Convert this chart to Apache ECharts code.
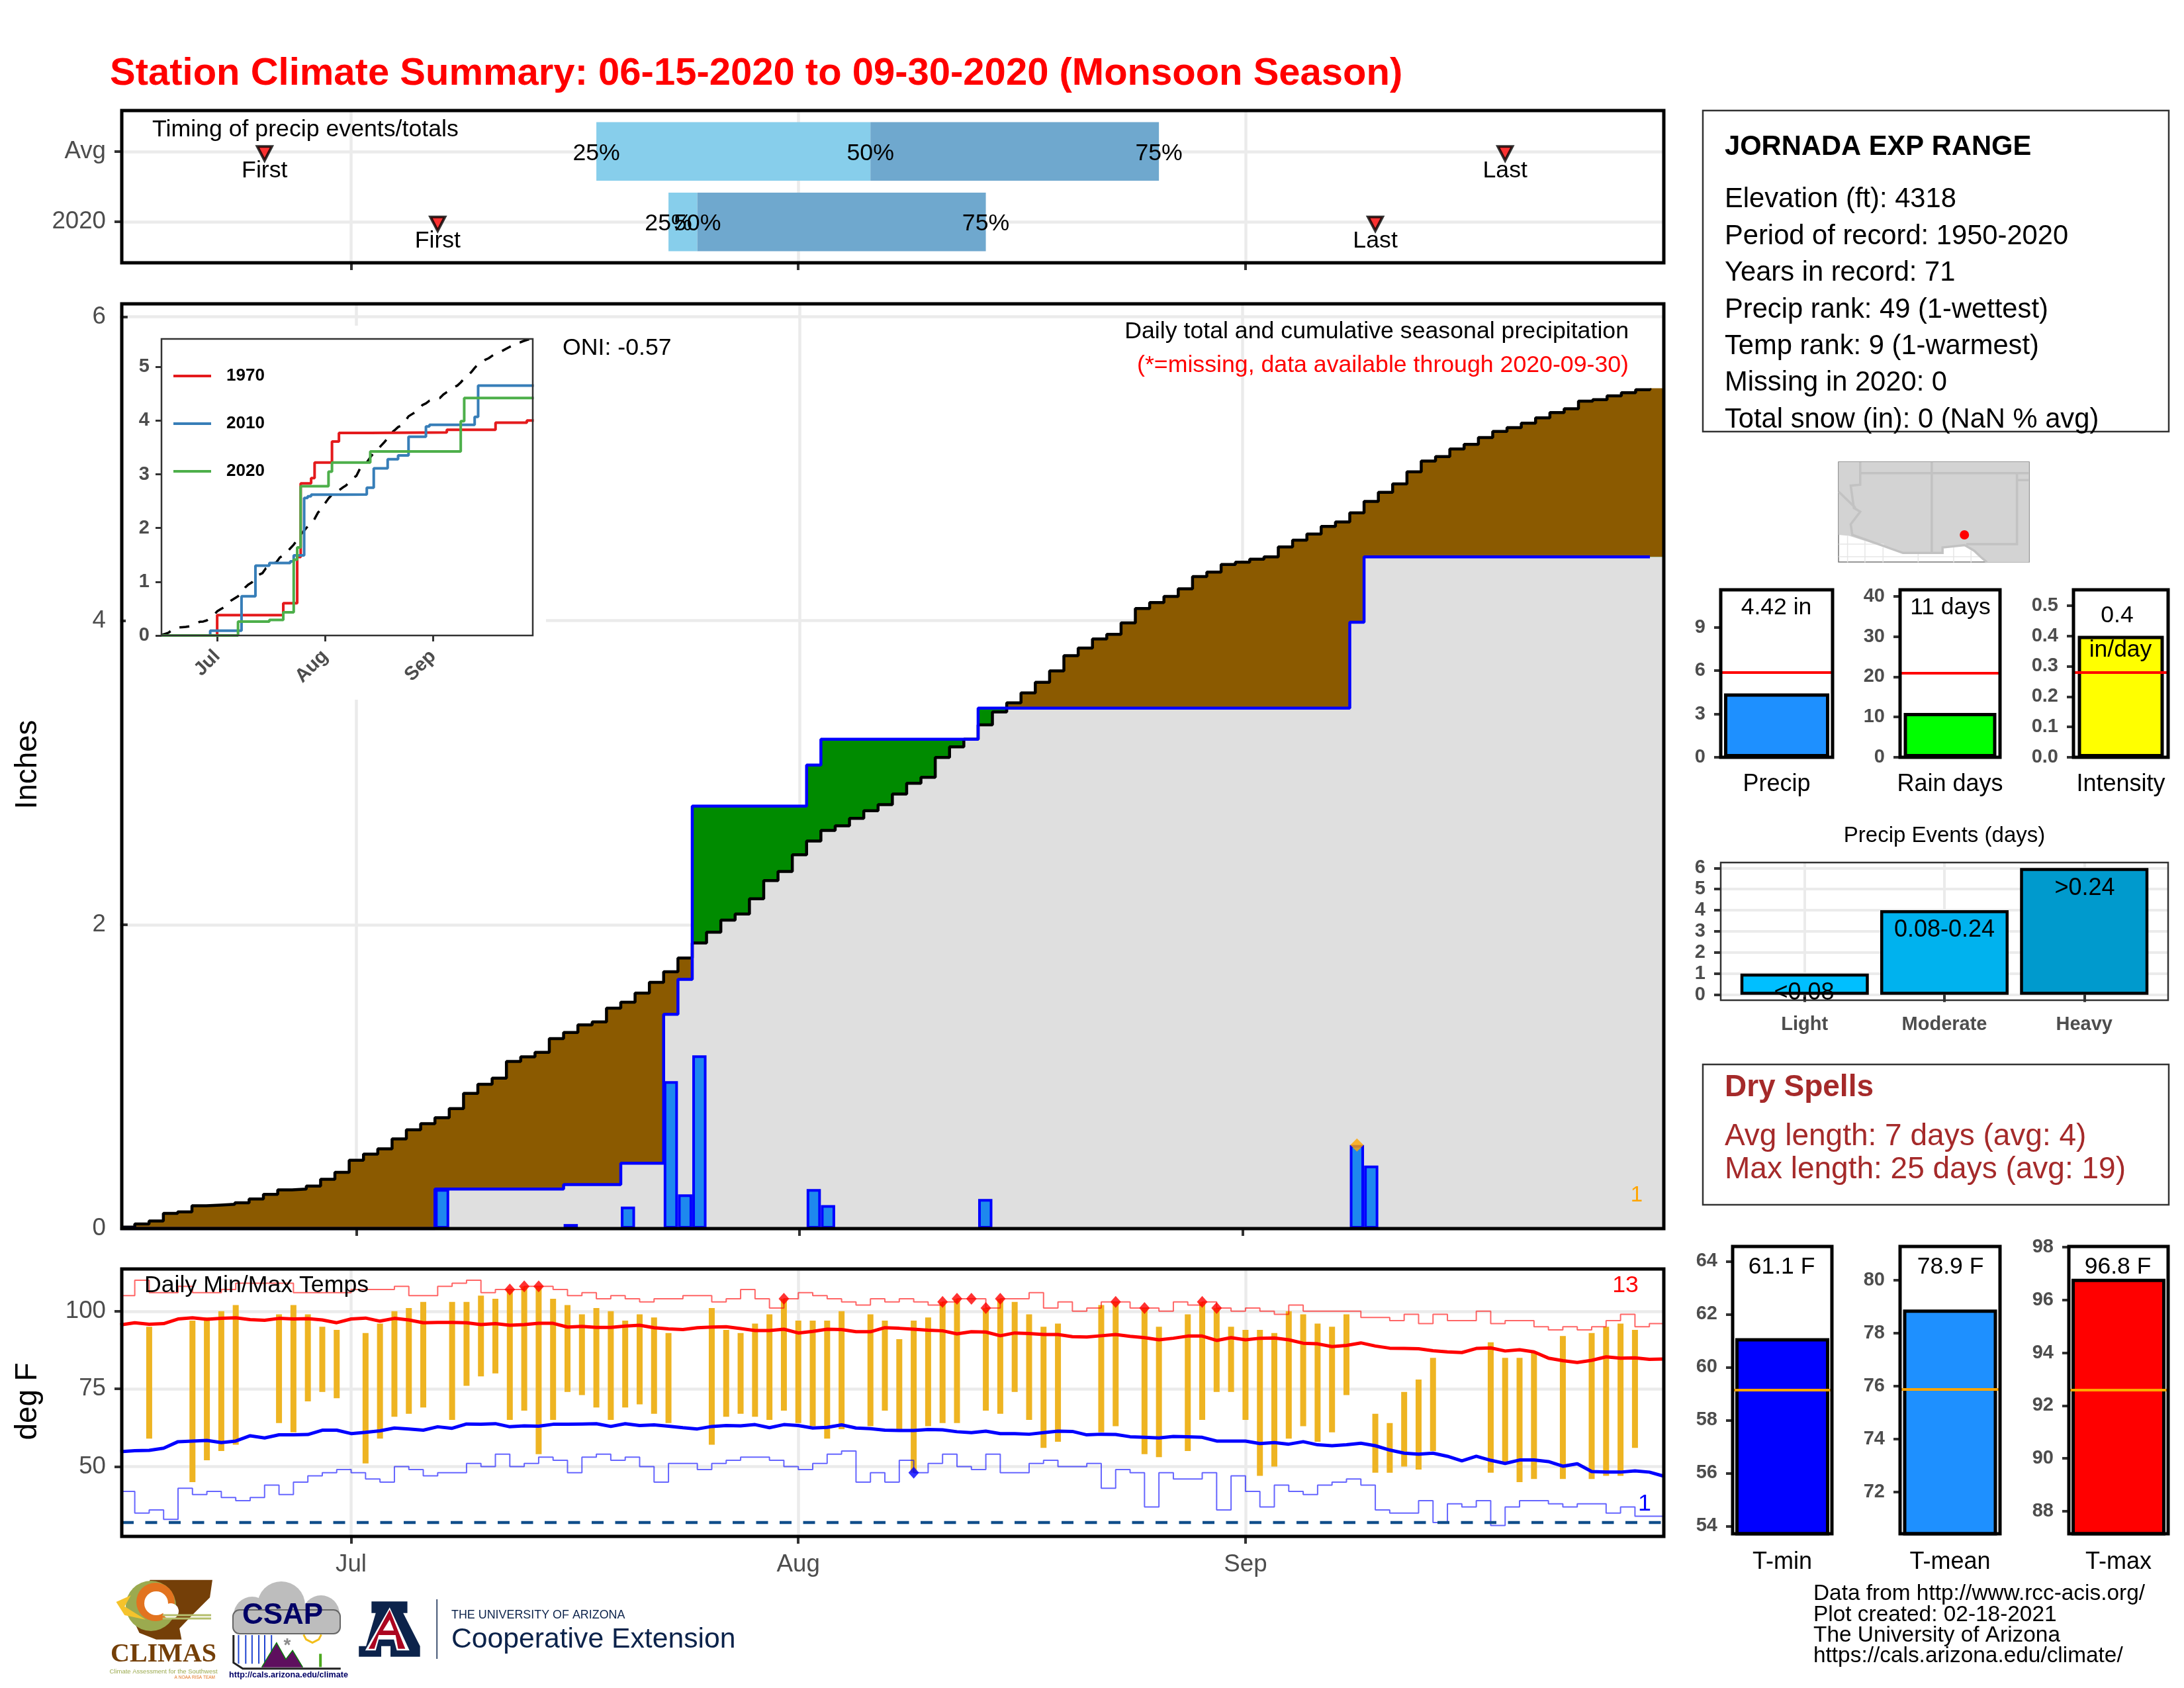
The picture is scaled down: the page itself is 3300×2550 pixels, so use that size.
<!DOCTYPE html>
<html>
<head>
<meta charset="utf-8">
<style>html,body{margin:0;padding:0;background:#fff}#chart{width:3300px;height:2550px}</style>
<script src="https://cdn.jsdelivr.net/npm/echarts@6/dist/echarts.min.js"></script>
</head>
<body>
<div id="chart"></div>
<script>
// month ticks, as day number counted from Jun 15
var monthTicks = [16, 47, 78];
var monthNames = {16: 'Jul', 47: 'Aug', 78: 'Sep'};

// timing panel
var avgQuart = [33, 52, 72];
var obsQuart = [38, 40, 60];
var avgFirstLast = [10, 96];
var obsFirstLast = [22, 87];
var quartNames = ['25%', '50%', '75%'];

// average cumulative precip, one value per day
var avgCum = [0.01,0.03,0.05,0.10,0.11,0.15,0.155,0.16,0.17,0.195,0.225,0.255,0.26,0.28,0.325,0.37,0.45,0.49,0.525,0.59,
  0.65,0.69,0.73,0.79,0.89,0.95,0.99,1.10,1.13,1.16,1.25,1.29,1.34,1.36,1.45,1.49,1.55,1.62,1.69,1.78,
  1.88,1.95,2.03,2.07,2.17,2.29,2.35,2.46,2.55,2.62,2.65,2.70,2.75,2.79,2.86,2.93,2.97,3.10,3.17,3.22,
  3.315,3.40,3.46,3.525,3.595,3.67,3.77,3.82,3.88,3.91,3.985,4.08,4.12,4.16,4.21,4.29,4.32,4.37,4.385,4.405,
  4.42,4.485,4.53,4.57,4.62,4.65,4.71,4.785,4.845,4.90,4.98,5.05,5.08,5.13,5.16,5.205,5.245,5.27,5.30,5.335,
  5.37,5.395,5.445,5.455,5.48,5.50,5.52,5.53];

// rain days of 2020
var rainDays = [22, 31, 35, 38, 39, 40, 48, 49, 60, 86, 87];
var rainAmount = [0.26, 0.03, 0.145, 0.97, 0.225, 1.14, 0.26, 0.155, 0.195, 0.55, 0.415];
var rainCum = [0.26, 0.29, 0.43, 1.41, 1.64, 2.78, 3.05, 3.22, 3.425, 3.99, 4.42];

// inset years: day of each rise and the total after it
var days1970 = [16,35,39,40,43,44,49,51,60,82,96,105];
var vals1970 = [0.38,0.60,1.46,2.83,2.93,3.22,3.61,3.77,3.78,3.83,3.96,4.0];
var days2010 = [14,23,27,31,37,38,41,42,43,52,59,61,65,68,71,76,77,90,91];
var vals2010 = [0.09,0.73,1.30,1.35,1.38,1.49,2.56,2.59,2.62,2.625,2.75,3.11,3.28,3.35,3.70,3.89,3.92,4.07,4.65];

// daily temps
var tempDays = [2,5,6,7,8,11,12,13,14,15,17,18,19,20,21,23,24,25,26,27,28,29,30,31,32,33,34,35,36,37,38,41,42,43,44,45,46,47,48,49,50,52,53,54,55,56,57,58,60,61,62,63,64,65,68,69,71,72,74,75,76,77,78,79,80,81,82,83,84,85,87,88,89,90,91,95,96,97,98,100,102,103,104,105];
var tempHigh = [95,97,98,100,102,99,102,99,95,94,93,96,100,101,103,103,103,105,104,107,108,108,104,102,99,101,100,97,99,98,93,101,94,93,96,99,104,97,97,97,100,99,97,91,97,98,103,104,101,104,103,99,95,96,102,103,101,95,99,103,101,95,94,94,93,100,99,96,95,99,67,64,74,78,85,90,85,85,87,92,93,95,96,94];
var tempLow = [59,45,52,55,57,64,61,71,74,72,51,59,66,67,69,65,76,79,80,65,68,54,65,74,73,69,65,69,70,67,64,57,66,67,66,65,68,64,63,59,62,63,68,62,48,63,64,64,68,67,74,65,56,58,61,63,54,53,55,65,74,74,65,47,50,59,63,58,61,73,48,48,50,49,55,48,51,45,46,46,46,47,47,56];
var recordHigh = [105,110,106,106,108,106,106,107,109,109,109,109,106,106,106,106,107,107,107,108,105,105,108,109,110,106,107,107,108,108,107,105,106,104,105,104,
  103,104,104,105,105,103,104,107,104,101,104,106,105,104,103,102,104,103,104,103,102,103,104,104,101,104,104,106,101,103,100,101,103,103,101,101,
  100,103,102,103,101,100,101,100,99,102,100,100,100,100,98,98,97,99,96,99,97,97,100,96,97,97,95,94,95,94,95,97,99,95,96,96];
var recordLow = [42,35,36,33,43,41,42,40,39,40,44,41,45,47,48,49,48,46,45,50,49,47,48,48,51,50,54,50,51,53,52,48,53,54,52,53,
  50,45,51,51,49,51,52,53,53,52,50,49,51,54,55,45,48,45,52,48,51,54,50,49,54,48,48,51,52,50,50,51,43,49,48,37,
  48,46,46,48,36,47,42,37,44,42,41,44,45,46,44,36,35,35,39,32,38,37,39,31,37,39,39,38,37,38,38,35,37,34,34,34];
var normalHigh = [95.6,96.3,95.8,96,97.5,97.9,97.4,97.7,97.9,97.3,97.1,97.7,97.5,97.6,97.2,96.3,97.5,97.8,96.8,97.7,97.2,96.3,96.4,96.4,96.3,95.7,96,95.5,95.7,96.1,96.1,94.9,95.1,94.8,94.8,95.2,
  95.5,94.7,94.3,94.1,94.7,94.9,95,94.4,93.8,93.8,94.2,93,93.5,94.2,94.1,93.4,93.4,94.7,94.5,94.2,93.9,93.7,92.7,93.4,93.3,92.1,93,92.8,92.5,92.5,91.8,91.7,92.1,92.5,91.9,91.5,
  90.8,91.3,92,92,90.6,91.5,90.8,91.3,91.4,90.8,89.7,89.5,88.6,89,89.8,88.8,88.1,88,87.9,87.3,86.9,86.7,88,88.2,87.2,87.6,86.9,84.9,84.1,83.5,84.2,85.3,84.9,85,84.5,84.6];
var normalLow = [54.8,55.1,55.2,55.9,58,58.2,58.4,57.7,58.2,59.9,59.2,60.2,60.2,60.3,61.7,61.7,60.6,61,61.5,62.4,62.1,61.7,62.8,62.3,63.7,63.6,63.8,62.8,63.1,63,63.6,63.6,63.7,63.8,62.9,63.8,
  63.2,63.4,63,62.5,62.1,62.9,63.2,63.1,63.5,62.5,63.5,63.2,62.4,62.6,63.4,62.4,62.2,61.7,61.6,61.6,61.9,61.8,61.2,60.9,61.4,60.6,60.6,60.4,60.9,61.4,61.3,60.2,60.4,60.3,59.6,59.4,
  59.2,59.7,59.6,59.4,58.2,58.2,58.2,57.4,57.7,57.2,58,57,56.7,57,57.5,56.7,55.3,54.3,54,54.3,53.3,51.8,53.3,52,51,52.1,52.1,51.6,50.1,50.9,48.4,48.2,48.2,48.6,48.2,46.9];
var recordHighDays = [27,28,29,46,57,58,59,60,61,69,71,75,76];
var recordHighVals = [107,108,108,104,103,104,104,101,104,103,101,103,101];
var recordLowDays = [55];
var recordLowVals = [48];
var freezeLine = 32;

// small summary bars
var seasonBars = {precip: 4.42, rain: 11, intensity: 0.4};
var seasonAvg = {precip: 5.87, rain: 20.9, intensity: 0.279};
var eventNames = ['Light', 'Moderate', 'Heavy'];
var eventLabels = ['<0.08', '0.08-0.24', '>0.24'];
var eventDays = [1, 4, 6];
var tempBars = {min: 61.1, mean: 78.9, max: 96.8};
var tempAvg = {min: 59.15, mean: 75.88, max: 92.6};

var FONT = '"Liberation Sans"';
var GREY = '#4d4d4d';
var GRID = '#ebebeb';

// spread step data to one value per day
function perDay(days, vals) {
  var out = [], cur = 0, k = 0;
  for (var i = 0; i < avgCum.length; i++) {
    while (k < days.length && days[k] <= i) { cur = vals[k]; k++; }
    out.push(cur);
  }
  return out;
}
var obsCum = perDay(rainDays, rainCum);
var lowerCum = avgCum.map(function (v, i) { return Math.min(v, obsCum[i]); });

// points for a stair line, each riser on the left edge of its day
function stair(vals) { return vals.map(function (v, i) { return [i - 0.5, v]; }); }
function stairFill(vals) { return stair(vals).concat([[107.6, vals[vals.length - 1]]]); }
function riseLine(days, vals, end) {
  var pts = [[0, 0]];
  days.forEach(function (d, i) { pts.push([d, vals[i]]); });
  pts.push([end, vals[vals.length - 1]]);
  return pts;
}

var grids = [
  {left: 184, top: 167, width: 2330, height: 230},
  {left: 184, top: 459, width: 2330, height: 1397},
  {left: 244, top: 512, width: 561, height: 448},
  {left: 184, top: 1917, width: 2330, height: 404},
  {left: 2600, top: 891, width: 169, height: 253},
  {left: 2871, top: 891, width: 151, height: 253},
  {left: 3133, top: 891, width: 143, height: 253},
  {left: 2600, top: 1303, width: 676, height: 208},
  {left: 2618, top: 1883, width: 150, height: 434},
  {left: 2871, top: 1883, width: 151, height: 434},
  {left: 3126, top: 1883, width: 150, height: 434}
];

function axis(idx, min, max, ticks, o) {
  o = o || {};
  return {
    type: 'value', gridIndex: idx, min: min, max: max, z: o.z,
    axisLine: {show: false},
    axisTick: {show: true, customValues: ticks, length: o.tick || 11, lineStyle: {color: '#333', width: o.tickW || 4}},
    axisLabel: {
      show: o.labels !== false, customValues: ticks, color: o.color || GREY, margin: o.margin || 24,
      fontFamily: FONT, fontSize: o.size || 36.7, fontWeight: o.weight || 'normal', rotate: o.rotate || 0,
      formatter: o.fmt, showMinLabel: true, showMaxLabel: true, hideOverlap: false, padding: o.pad || 0
    },
    splitLine: {show: o.split !== false, lineStyle: {color: GRID, width: o.gridW || 4.5}}
  };
}
function monthFmt(v) { return monthNames[v] || ''; }
function catAxis(idx, name, margin) {
  return {
    type: 'category', gridIndex: idx, data: [name],
    axisLine: {show: false}, axisTick: {show: false}, splitLine: {show: false},
    axisLabel: {color: '#000', fontFamily: FONT, fontSize: 36, margin: margin}
  };
}

var xAxes = [
  axis(0, 0.1, 107, monthTicks, {labels: false}),
  axis(1, -0.41, 107.47, monthTicks, {labels: false}),
  axis(2, 0, 106.7, monthTicks, {fmt: monthFmt, split: false, rotate: 45, weight: 'bold', size: 29, tick: 9, tickW: 3, margin: 27, z: 3}),
  axis(3, 0.1, 107, monthTicks, {fmt: monthFmt, margin: 24}),
  catAxis(4, 'Precip', 23), catAxis(5, 'Rain days', 23), catAxis(6, 'Intensity', 23),
  axis(7, 0.4, 3.6, [1, 2, 3], {fmt: function (v) { return eventNames[v - 1]; }, weight: 'bold', size: 29, gridW: 4, margin: 22}),
  catAxis(8, 'T-min', 25), catAxis(9, 'T-mean', 25), catAxis(10, 'T-max', 25)
];
var smallY = {weight: 'bold', size: 29, split: false, tick: 10, margin: 23, pad: [6, 0, 0, 0]};
var mainPad = [6, 0, 0, 0];
var yAxes = [
  axis(0, 0.42, 2.58, [1, 2], {fmt: function (v) { return v === 2 ? 'Avg' : '2020'; }, pad: [9, 0, 0, 0]}),
  axis(1, 0, 6.085, [0, 2, 4, 6], {fmt: String, pad: mainPad}),
  axis(2, 0, 5.52, [0, 1, 2, 3, 4, 5], {fmt: String, split: false, weight: 'bold', size: 29, tick: 9, tickW: 3, margin: 18, z: 3, pad: [4, 0, 0, 0]}),
  axis(3, 27.5, 113.6, [50, 75, 100], {fmt: String, pad: mainPad}),
  axis(4, 0, 11.6, [0, 3, 6, 9], smallY),
  axis(5, 0, 41.6, [0, 10, 20, 30, 40], smallY),
  axis(6, 0, 0.5516, [0, 0.1, 0.2, 0.3, 0.4, 0.5], Object.assign({fmt: function (v) { return v.toFixed(1); }}, smallY)),
  axis(7, -0.26, 6.26, [0, 1, 2, 3, 4, 5, 6], {fmt: String, weight: 'bold', size: 29, tick: 10, margin: 23, gridW: 4, pad: [6, 0, 0, 0]}),
  axis(8, 53.71, 64.56, [54, 56, 58, 60, 62, 64], smallY),
  axis(9, 70.43, 81.28, [72, 74, 76, 78, 80], smallY),
  axis(10, 87.15, 98.02, [88, 90, 92, 94, 96, 98], smallY)
];

// horizontal range bars of the timing panel
var timingBars = [
  [2, avgQuart[0], avgQuart[1], '#87CEEB'], [2, avgQuart[1], avgQuart[2], '#6FA8CE'],
  [1, obsQuart[0], obsQuart[1], '#87CEEB'], [1, obsQuart[1], obsQuart[2], '#6FA8CE']
];
var timingText = [];
quartNames.forEach(function (n, i) {
  timingText.push([avgQuart[i], 2, n, 3]);
  timingText.push([obsQuart[i], 1, n, 3]);
});
timingText.push([avgFirstLast[0], 2, 'First', 29], [avgFirstLast[1], 2, 'Last', 29]);
timingText.push([obsFirstLast[0], 1, 'First', 29], [obsFirstLast[1], 1, 'Last', 29]);

function lineS(idx, data, color, width, extra) {
  return Object.assign({
    type: 'line', xAxisIndex: idx, yAxisIndex: idx, data: data, showSymbol: false, symbol: 'none',
    silent: true, lineStyle: {color: color, width: width}, itemStyle: {color: color}
  }, extra || {});
}
function fillS(vals, color) {
  return lineS(1, stairFill(vals), color, 0, {step: 'end', areaStyle: {color: color, opacity: 1}, lineStyle: {width: 0}});
}
function diamonds(idx, days, vals, color, size) {
  return {
    type: 'scatter', xAxisIndex: idx, yAxisIndex: idx, symbol: 'diamond', symbolSize: size, z: 6,
    itemStyle: {color: color}, silent: true,
    data: days.map(function (d, i) { return [d, vals[i]]; })
  };
}
function oneBar(idx, val, color, width, ref, refColor) {
  return {
    type: 'bar', xAxisIndex: idx, yAxisIndex: idx, data: [val], barWidth: width, silent: true,
    itemStyle: {color: color, borderColor: '#000', borderWidth: 5},
    markLine: {
      silent: true, symbol: 'none', animation: false, label: {show: false},
      lineStyle: {color: refColor, width: 4, type: 'solid'}, data: [{yAxis: ref}]
    }
  };
}

var series = [
  {
    type: 'custom', xAxisIndex: 0, yAxisIndex: 0, silent: true, clip: true,
    data: timingBars.map(function (b) { return [b[0], b[1], b[2]]; }),
    encode: {x: [1, 2], y: 0},
    renderItem: function (params, api) {
      var a = api.coord([api.value(1), api.value(0) + 0.415]);
      var b = api.coord([api.value(2), api.value(0) - 0.415]);
      return {type: 'rect', shape: {x: a[0], y: a[1], width: b[0] - a[0], height: b[1] - a[1]},
        style: {fill: timingBars[params.dataIndex][3]}};
    }
  },
  {
    type: 'scatter', xAxisIndex: 0, yAxisIndex: 0, symbol: 'triangle', symbolRotate: 180, symbolSize: [22, 21],
    symbolOffset: [0, 3], silent: true, z: 4,
    itemStyle: {color: '#ff0000', borderColor: '#000', borderWidth: 4},
    data: [[avgFirstLast[0], 2], [avgFirstLast[1], 2], [obsFirstLast[0], 1], [obsFirstLast[1], 1]]
  },
  {
    type: 'custom', xAxisIndex: 0, yAxisIndex: 0, silent: true, z: 5, clip: false,
    data: timingText.map(function (b) { return [b[0], b[1]]; }),
    encode: {x: 0, y: 1},
    renderItem: function (params, api) {
      var row = timingText[params.dataIndex];
      var p = api.coord([api.value(0), api.value(1)]);
      return {type: 'text', x: p[0], y: p[1] + row[3], style: {text: row[2], fill: '#000', font: '35.7px ' + FONT, align: 'center', verticalAlign: 'middle', textAlign: 'center', textVerticalAlign: 'middle'}};
    }
  },

  // the three fills: above the average is green, below it brown
  fillS(avgCum, '#8B5A00'),
  fillS(obsCum, '#008B00'),
  fillS(lowerCum, '#DFDFDF'),
  {
    type: 'bar', xAxisIndex: 1, yAxisIndex: 1, barWidth: 21.5, silent: true, z: 3,
    itemStyle: {color: '#1E88EE', borderColor: '#0000FF', borderWidth: 4},
    data: rainDays.map(function (d, i) { return [d, rainAmount[i]]; })
  },
  lineS(1, stair(avgCum), '#000', 4.5, {step: 'end', z: 4}),
  lineS(1, stair(obsCum), '#0000FF', 4.5, {step: 'end', z: 5}),
  diamonds(1, [86], [0.55], '#FFA500', 20),

  // inset
  lineS(2, avgCum.map(function (v, i) { return [i, v]; }), '#000', 3.5, {z: 4, lineStyle: {color: '#000', width: 3.5, type: [15, 15]}}),
  lineS(2, riseLine(days1970, vals1970, 107), '#E41A1C', 4, {name: '1970', step: 'end', z: 5}),
  lineS(2, riseLine(days2010, vals2010, 107), '#377EB8', 4, {name: '2010', step: 'end', z: 5}),
  lineS(2, riseLine(rainDays, rainCum, 107), '#4DAF4A', 4, {name: '2020', step: 'end', z: 5}),

  // daily temps
  {
    type: 'custom', xAxisIndex: 3, yAxisIndex: 3, silent: true,
    data: tempDays.map(function (d, i) { return [d, tempLow[i], tempHigh[i]]; }),
    encode: {x: 0, y: [1, 2]},
    renderItem: function (params, api) {
      var lo = api.coord([api.value(0), api.value(1)]);
      var hi = api.coord([api.value(0), api.value(2)]);
      return {type: 'rect', shape: {x: lo[0] - 4.5, y: hi[1], width: 9, height: lo[1] - hi[1]}, style: {fill: '#EEB422'}};
    }
  },
  lineS(3, recordHigh.map(function (v, i) { return [i, v]; }), 'rgba(255,0,0,0.6)', 2, {step: 'end', z: 3}),
  lineS(3, recordLow.map(function (v, i) { return [i, v]; }), 'rgba(0,0,255,0.6)', 2, {step: 'end', z: 3}),
  lineS(3, normalHigh.map(function (v, i) { return [i, v]; }), '#FF0000', 5, {z: 4}),
  lineS(3, normalLow.map(function (v, i) { return [i, v]; }), '#0000FF', 5, {z: 4}),
  lineS(3, [[0.1, freezeLine], [107, freezeLine]], '#104E8B', 4.5, {z: 4, lineStyle: {color: '#104E8B', width: 4.5, type: [18, 17.5]}}),
  diamonds(3, recordHighDays, recordHighVals, '#FF0000', [16, 18]),
  diamonds(3, recordLowDays, recordLowVals, '#0000FF', [16, 18]),

  oneBar(4, seasonBars.precip, '#1E90FF', 159, seasonAvg.precip, '#FF0000'),
  oneBar(5, seasonBars.rain, '#00FF00', 140, seasonAvg.rain, '#FF0000'),
  oneBar(6, seasonBars.intensity, '#FFFF00', 130, seasonAvg.intensity, '#FF0000'),
  {
    type: 'bar', xAxisIndex: 7, yAxisIndex: 7, barWidth: 194, silent: true, z: 3,
    itemStyle: {borderColor: '#000', borderWidth: 4.5},
    data: eventDays.map(function (v, i) {
      return {value: [i + 1, v], itemStyle: {color: ['#00BFFF', '#00B2EE', '#009ACD'][i]}};
    })
  },
  oneBar(8, tempBars.min, '#0000FF', 142, tempAvg.min, '#FFA500'),
  oneBar(9, tempBars.mean, '#1E90FF', 142, tempAvg.mean, '#FFA500'),
  oneBar(10, tempBars.max, '#FF0000', 142, tempAvg.max, '#FFA500')
];

// ---- graphic layer: frames, free text, the map and the logos
var g = [];
function txt(s, x, y, font, fill, align, rot, family) {
  g.push({type: 'text', x: x, y: y + (rot ? 0 : 3), rotation: rot || 0, z: 60, silent: true,
    style: {text: s, fill: fill || '#000', font: font + ' ' + (family || FONT), align: align || 'left', verticalAlign: 'middle', textAlign: align || 'left', textVerticalAlign: 'middle'}});
}
function frame(b, lw, color) {
  g.push({type: 'rect', z: 50, silent: true, shape: {x: b.left, y: b.top, width: b.width, height: b.height},
    style: {fill: null, stroke: color || '#000', lineWidth: lw}});
}
function poly(pts, fill, z) {
  g.push({type: 'polygon', z: z || 55, silent: true, shape: {points: pts}, style: {fill: fill}});
}
function pline(pts, stroke, lw, z) {
  g.push({type: 'polyline', z: z || 56, silent: true, shape: {points: pts}, style: {fill: null, stroke: stroke, lineWidth: lw}});
}
function dot(x, y, r, fill, z) {
  g.push({type: 'circle', z: z || 56, silent: true, shape: {cx: x, cy: y, r: r}, style: {fill: fill}});
}

// white patch behind the inset hides the main gridlines
g.push({type: 'rect', z: 1, silent: true, shape: {x: 190, y: 492, width: 635, height: 565}, style: {fill: '#fff'}});

[0, 1, 3].forEach(function (i) { frame(grids[i], 5); });
frame(grids[2], 2.5, '#333');
[4, 5, 6, 8, 9, 10].forEach(function (i) { frame(grids[i], 5); });
frame(grids[7], 2.5, '#333');
frame({left: 2573, top: 167, width: 704, height: 485}, 2.5, '#333');
frame({left: 2573, top: 1608, width: 704, height: 212}, 2.5, '#333');

txt('Station Climate Summary: 06-15-2020 to 09-30-2020 (Monsoon Season)', 166, 109, 'bold 58px', '#FF0000');
txt('Timing of precip events/totals', 230, 193, '35.7px');
txt('ONI: -0.57', 850, 523, '35.7px');
txt('Daily total and cumulative seasonal precipitation', 2461, 498, '35.7px', '#000', 'right');
txt('(*=missing, data available through 2020-09-30)', 2461, 549, '35.7px', '#FF0000', 'right');
txt('1', 2473, 1803, '33px', '#FFA500', 'center');
txt('Inches', 42, 1155, '45.8px', '#000', 'center', Math.PI / 2);
txt('deg F', 42, 2117, '45.8px', '#000', 'center', Math.PI / 2);
txt('Daily Min/Max Temps', 218, 1939, '35.7px');
txt('13', 2456, 1939, '35.7px', '#FF0000', 'center');
txt('1', 2485, 2269, '35.7px', '#0000FF', 'center');

txt('JORNADA EXP RANGE', 2606, 220, 'bold 41.7px');
['Elevation (ft): 4318', 'Period of record: 1950-2020', 'Years in record: 71', 'Precip rank: 49 (1-wettest)',
  'Temp rank: 9 (1-warmest)', 'Missing in 2020: 0', 'Total snow (in): 0 (NaN % avg)'].forEach(function (s, i) {
  txt(s, 2606, 299 + i * 55.4, '41.7px');
});

txt('4.42 in', 2684, 915, '35.5px', '#000', 'center');
txt('11 days', 2947, 915, '35.5px', '#000', 'center');
txt('0.4', 3199, 927, '35.5px', '#000', 'center');
txt('in/day', 3204, 979, '35.5px', '#000', 'center');

txt('Precip Events (days)', 2938, 1260, '33px', '#000', 'center');
[1497, 1402, 1339].forEach(function (y, i) { txt(eventLabels[i], 2726 + i * 212, y, '36px', '#000', 'center'); });

txt('Dry Spells', 2606, 1640, 'bold 46px', '#A52A2A');
txt('Avg length: 7 days (avg: 4)', 2606, 1714, '46px', '#A52A2A');
txt('Max length: 25 days (avg: 19)', 2606, 1764, '46px', '#A52A2A');

txt('61.1 F', 2692, 1911, '35.5px', '#000', 'center');
txt('78.9 F', 2947, 1911, '35.5px', '#000', 'center');
txt('96.8 F', 3200, 1911, '35.5px', '#000', 'center');

['Data from http://www.rcc-acis.org/', 'Plot created: 02-18-2021', 'The University of Arizona', 'https://cals.arizona.edu/climate/'].forEach(function (s, i) {
  txt(s, 2740, 2405 + i * 31.3, '33.4px');
});

// location map, drawn in the pixel space of its little box
var mapXY = function (a) { return [2550 + a[0] / 2.09, 150 + a[1] / 1.4255]; };
var mp = function (list) { return list.map(mapXY); };
poly(mp([[477,781],[1078,781],[1078,997],[945,997],[925,985],[905,972],[880,960],[805,965],[805,977],[680,977],[510,940],[477,938]]), '#D3D3D3');
[[505,940,505,997],[560,950,560,997],[617,965,617,997],[728,977,728,997],[840,965,840,997],[895,972,895,997]].forEach(function (l) {
  pline(mp([[l[0], l[1]], [l[2], l[3]]]), '#e6e6e6', 1.5);
});
pline(mp([[477,958],[620,958]]), '#e6e6e6', 1.5);
pline(mp([[477,985],[930,985]]), '#e6e6e6', 1.5);
[
  [[771,781],[771,977]],
  [[545,805],[1078,805]],
  [[545,781],[545,830],[515,832],[525,880],[545,888],[515,915],[520,938],[680,977],[805,977],[805,965],[875,960],[905,972],[925,985],[945,997]],
  [[477,845],[530,880]],
  [[1040,805],[1040,958],[880,958]],
  [[1040,820],[1078,820]]
].forEach(function (l) { pline(mp(l), '#C2C2C2', 3.5); });
frame({left: 2778, top: 698, width: 288, height: 151}, 1.5, '#777');
var mapDot = mapXY([874, 938]);
dot(mapDot[0], mapDot[1], 7, '#FF0000', 57);

// logos
var lg = function (list) { return list.map(function (a) { return [150 + a[0] / 1.568, 2280 + a[1] / 3]; }); };
poly(lg([[120,320],[268,320],[262,400],[225,470],[190,540],[195,590],[135,590],[95,560],[85,520],[110,400]]), '#743F08');
dot(228, 2426, 38, '#9BAA4F', 57);
dot(235, 2420, 29, '#E2731F', 58);
dot(236, 2422, 18, '#fff', 59);
dot(258, 2434, 12, '#fff', 59);
poly(lg([[40,420],[75,390],[60,440],[110,500],[60,480]]), '#F5C32C', 58);
pline(lg([[150,480],[265,480]]), '#B5BE6C', 3, 59);
pline(lg([[150,495],[265,495]]), '#B5BE6C', 3, 59);
txt('CLIMAS', 247, 2497, 'bold 40px', '#743F08', 'center', 0, '"Liberation Serif"');
txt('Climate Assessment for the Southwest', 247, 2522, '9.5px', '#9BAA4F', 'center');
txt('A NOAA RISA TEAM', 325, 2531, '6.5px', '#E2731F', 'right');

dot(425, 2425, 36, '#BDBDBD');
dot(381, 2440, 28, '#BDBDBD');
dot(485, 2438, 28, '#BDBDBD');
g.push({type: 'rect', z: 56, silent: true, shape: {x: 352, y: 2432, width: 162, height: 36, r: 10}, style: {fill: '#BDBDBD', stroke: '#666', lineWidth: 2}});
txt('CSAP', 427, 2438, 'bold 44px', '#000066', 'center');
[330, 347, 362, 378, 392, 408].forEach(function (zx) { pline(lg([[zx, 570], [zx, 700]]), '#1F44D0', 2); });
pline(lg([[318, 570], [318, 695], [340, 722], [572, 722]]), '#222', 3);
poly(lg([[385,716],[420,605],[442,680],[458,640],[482,716]]), '#5E0F5E', 57);
pline(lg([[385,716],[420,605],[442,680],[458,640],[482,716]]), '#0B7A0B', 1.5, 58);
txt('*', 434, 2483, 'bold 28px', '#8a8a8a', 'center');
pline(lg([[484,568],[490,590],[505,605],[520,590],[526,568]]), '#F2BE1A', 3);
pline(lg([[524,655],[524,715]]), '#4CA81E', 4);
txt('http://cals.arizona.edu/climate', 436, 2528, 'bold 12.6px', '#000066', 'center');

poly(lg([[645,418],[730,418],[730,470],[720,470],[760,620],[760,668],[690,668],[690,620],[668,620],[668,668],[615,668],[615,620],[632,620],[655,470],[645,470]]), '#0C234B');
poly(lg([[688,445],[735,640],[705,640],[698,590],[662,590],[655,640],[630,640]]), '#fff', 57);
poly(lg([[688,455],[725,632],[708,632],[702,570],[662,570],[652,632],[638,632]]), '#AB0520', 58);
poly(lg([[688,500],[698,550],[672,550]]), '#fff', 59);
pline(lg([[800, 408], [800, 678]]), '#0C234B', 1.5);
txt('THE UNIVERSITY OF ARIZONA', 682, 2437, '17.9px', '#0C234B');
txt('Cooperative Extension', 682, 2474, '42.7px', '#0C234B');

var chart = echarts.init(document.getElementById('chart'), null, {renderer: 'canvas', width: 3300, height: 2550});
chart.setOption({
  animation: false,
  backgroundColor: '#fff',
  textStyle: {fontFamily: FONT},
  tooltip: {show: false},
  grid: grids,
  xAxis: xAxes,
  yAxis: yAxes,
  legend: {
    show: true, left: 257, top: 550, orient: 'vertical', itemWidth: 57, itemHeight: 4, itemGap: 46, icon: 'rect',
    selectedMode: false, data: ['1970', '2010', '2020'], z: 60,
    textStyle: {fontFamily: FONT, fontSize: 26, fontWeight: 'bold', color: '#000', padding: [0, 0, 0, 18]}
  },
  series: series,
  graphic: {elements: g}
});
</script>
</body>
</html>
